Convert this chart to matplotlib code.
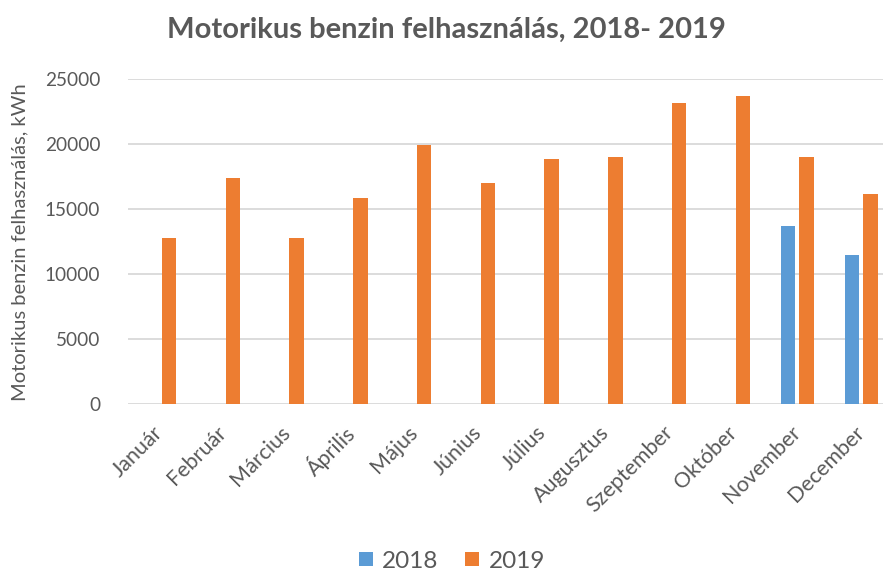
import matplotlib

matplotlib.use("Agg")

import numpy as np
from matplotlib import pyplot as plt

plt.rcParams["font.family"] = ["Lato", "DejaVu Sans"]

MONTHS = [
    "Január", "Február", "Március", "Április", "Május", "Június",
    "Július", "Augusztus", "Szeptember", "Október", "November", "December",
]
VALUES_2018 = [0, 0, 0, 0, 0, 0, 0, 0, 0, 0, 13680, 11500]
VALUES_2019 = [12760, 17390, 12760, 15830, 19950, 17010, 18880, 18990, 23140, 23720, 18990, 16140]
SERIES_LABELS = ["2018", "2019"]
Y_TICKS = [0, 5000, 10000, 15000, 20000, 25000]

TEXT_COLOR = "#595959"
GRID_COLOR = "#d9d9d9"
BLUE = "#5b9bd5"
ORANGE = "#ed7d31"

W, H = 883, 575
fig = plt.figure(figsize=(W / 100, H / 100), dpi=100)
# plot area runs past the right edge of the picture, as in the reference
left, right, bottom, top = 128, 893, 404.3, 79
ax = fig.add_axes([left / W, 1 - bottom / H, (right - left) / W, (bottom - top) / H])

x = np.arange(len(MONTHS))
width = 0.225
offset = 0.145
values_2018 = np.array(VALUES_2018, dtype=float)
mask = values_2018 > 0
ax.bar(x[mask] - offset, values_2018[mask], width, color=BLUE, label=SERIES_LABELS[0], zorder=3)
ax.bar(x + offset, VALUES_2019, width, color=ORANGE, label=SERIES_LABELS[1], zorder=3)

ax.set_xlim(-0.5, len(MONTHS) - 0.5)
ax.set_ylim(0, 25000)
ax.set_yticks(Y_TICKS)
ax.set_yticklabels([str(v) for v in Y_TICKS])
ax.yaxis.grid(True, color=GRID_COLOR, linewidth=1.3, zorder=0)
ax.set_axisbelow(True)
for spine in ax.spines.values():
    spine.set_visible(False)
ax.tick_params(axis="both", length=0, colors=TEXT_COLOR)
ax.tick_params(axis="y", labelsize=13.7, pad=20)

ax.set_xticks(x)
ax.set_xticklabels(MONTHS, rotation=45, ha="right", va="center",
                   rotation_mode="anchor", fontsize=15.5, color=TEXT_COLOR)
ax.tick_params(axis="x", pad=18)

ax.set_ylabel("Motorikus benzin felhasználás, kWh", fontsize=14.5, color=TEXT_COLOR, labelpad=12)

fig.text(446 / W, 1 - 30 / H, "Motorikus benzin felhasználás, 2018- 2019",
         ha="center", va="center", fontsize=21, fontweight="bold", color=TEXT_COLOR)

fig.legend(loc="center", bbox_to_anchor=(452 / W, 1 - 561 / H), ncol=2, frameon=False,
           fontsize=17.5, handlelength=0.55, handleheight=0.55, handletextpad=0.4,
           columnspacing=1.1, labelcolor=TEXT_COLOR, borderpad=0.2)

fig.savefig("out.png", dpi=100)
